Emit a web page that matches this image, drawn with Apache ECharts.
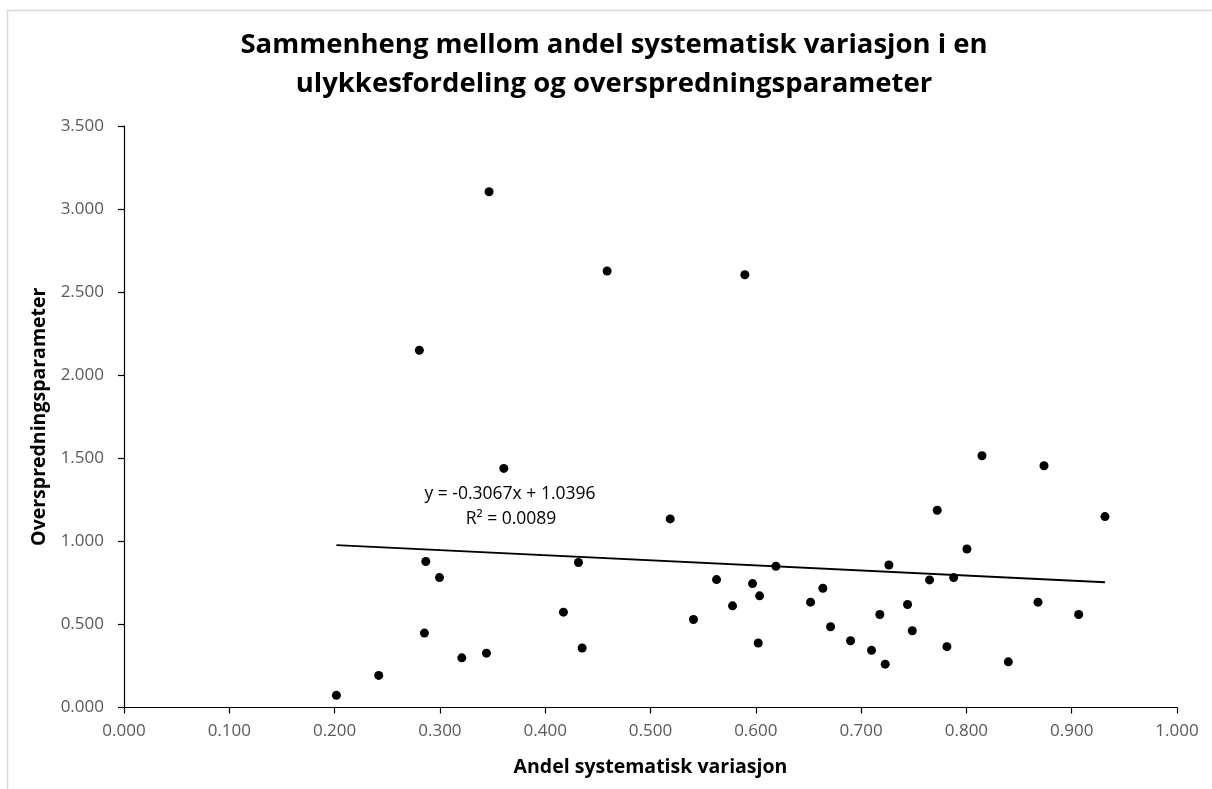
<!DOCTYPE html>
<html>
<head>
<meta charset="utf-8">
<script src="https://cdn.jsdelivr.net/npm/echarts@6/dist/echarts.min.js"></script>
<style>
  html, body { margin: 0; padding: 0; background: #fff; }
  #chart { width: 1212px; height: 789px; }
</style>
</head>
<body>
<div id="chart"></div>
<script>
// Share of systematic variation (x) vs. overdispersion parameter (y)
const andelSystematisk = [
  0.2017, 0.2419, 0.2805, 0.2853, 0.2866, 0.2996, 0.3208, 0.3442, 0.3467, 0.3607,
  0.4173, 0.4316, 0.4351, 0.4588, 0.5187, 0.5408, 0.5627, 0.5779, 0.5896, 0.5969,
  0.6023, 0.6036, 0.6191, 0.6520, 0.6637, 0.6710, 0.6900, 0.7099, 0.7178, 0.7229,
  0.7264, 0.7441, 0.7486, 0.7650, 0.7723, 0.7815, 0.7879, 0.8005, 0.8148, 0.8398,
  0.8680, 0.8737, 0.9066, 0.9316
];
const overspredning = [
  0.073, 0.193, 2.150, 0.448, 0.879, 0.782, 0.299, 0.327, 3.104, 1.439,
  0.574, 0.873, 0.358, 2.627, 1.135, 0.530, 0.770, 0.612, 2.605, 0.746,
  0.388, 0.672, 0.850, 0.634, 0.718, 0.486, 0.402, 0.344, 0.560, 0.261,
  0.858, 0.620, 0.462, 0.768, 1.187, 0.366, 0.782, 0.954, 1.515, 0.275,
  0.634, 1.455, 0.560, 1.149
];

// Linear trend line as given by the equation label
const trendSlope = -0.3067;
const trendIntercept = 1.0396;
const trendR2 = 0.0089;

const xTicks = [0, 0.1, 0.2, 0.3, 0.4, 0.5, 0.6, 0.7, 0.8, 0.9, 1.0];
const yTicks = [0, 0.5, 1.0, 1.5, 2.0, 2.5, 3.0, 3.5];

const titleLines = [
  'Sammenheng mellom andel systematisk variasjon i en',
  'ulykkesfordeling og overspredningsparameter'
];
const xAxisTitle = 'Andel systematisk variasjon';
const yAxisTitle = 'Overspredningsparameter';

const FONT = "'Open Sans', 'Liberation Sans', sans-serif";

const points = andelSystematisk.map((x, i) => [x, overspredning[i]]);
const xMin = Math.min(...andelSystematisk);
const xMax = Math.max(...andelSystematisk);
const trendPoints = [xMin, xMax].map(x => [x, trendSlope * x + trendIntercept]);

const chart = echarts.init(document.getElementById('chart'), null, { renderer: 'canvas' });

const option = {
  backgroundColor: '#ffffff',
  animation: false,
  grid: { left: 124, right: 35, top: 126, bottom: 81.5, containLabel: false },
  xAxis: {
    type: 'value',
    min: xTicks[0],
    max: xTicks[xTicks.length - 1],
    interval: 0.1,
    name: xAxisTitle,
    nameLocation: 'middle',
    nameGap: 50,
    nameTextStyle: { fontFamily: FONT, fontWeight: 'bold', fontSize: 19.5, color: '#000' },
    axisLine: { show: true, lineStyle: { color: '#000', width: 1.2 } },
    axisTick: { show: true, inside: false, length: 6, lineStyle: { color: '#000', width: 1.2 } },
    axisLabel: {
      margin: 15, fontFamily: FONT, fontSize: 17, color: '#595959',
      formatter: v => v.toFixed(3)
    },
    splitLine: { show: false }
  },
  yAxis: {
    type: 'value',
    min: yTicks[0],
    max: yTicks[yTicks.length - 1],
    interval: 0.5,
    name: yAxisTitle,
    nameLocation: 'middle',
    nameGap: 64,
    nameRotate: 90,
    nameTextStyle: { fontFamily: FONT, fontWeight: 'bold', fontSize: 19.5, color: '#000' },
    axisLine: { show: true, lineStyle: { color: '#000', width: 1.2 } },
    axisTick: { show: true, inside: false, length: 6, lineStyle: { color: '#000', width: 1.2 } },
    axisLabel: {
      margin: 20, fontFamily: FONT, fontSize: 17, color: '#595959',
      formatter: v => v.toFixed(3)
    },
    splitLine: { show: false }
  },
  series: [
    {
      name: 'trend',
      type: 'line',
      data: trendPoints,
      symbol: 'none',
      lineStyle: { color: '#000', width: 1.8 },
      z: 2
    },
    {
      name: 'data',
      type: 'scatter',
      data: points,
      symbol: 'circle',
      symbolSize: 9,
      itemStyle: { color: '#000', opacity: 1 },
      z: 3
    }
  ],
  graphic: [
    {
      type: 'rect',
      shape: { x: 7.5, y: 10.5, width: 1400, height: 1000 },
      style: { fill: null, stroke: '#d9d9d9', lineWidth: 1.5 },
      silent: true, z: -1
    },
    {
      type: 'text',
      x: 614, y: 45,
      style: {
        text: titleLines[0], fontFamily: FONT, fontWeight: 'bold', fontSize: 27.5,
        fill: '#000', textAlign: 'center', textVerticalAlign: 'middle'
      }
    },
    {
      type: 'text',
      x: 614, y: 84,
      style: {
        text: titleLines[1], fontFamily: FONT, fontWeight: 'bold', fontSize: 27.5,
        fill: '#000', textAlign: 'center', textVerticalAlign: 'middle'
      }
    },
    {
      type: 'text',
      x: 510, y: 494,
      style: {
        text: 'y = ' + trendSlope.toFixed(4) + 'x + ' + trendIntercept.toFixed(4),
        fontFamily: FONT, fontSize: 17.5, fill: '#000',
        textAlign: 'center', textVerticalAlign: 'middle'
      }
    },
    {
      type: 'text',
      x: 511, y: 519,
      style: {
        text: 'R\u00B2 = ' + trendR2.toFixed(4),
        fontFamily: FONT, fontSize: 17.5, fill: '#000',
        textAlign: 'center', textVerticalAlign: 'middle'
      }
    }
  ]
};

chart.setOption(option);
</script>
</body>
</html>
